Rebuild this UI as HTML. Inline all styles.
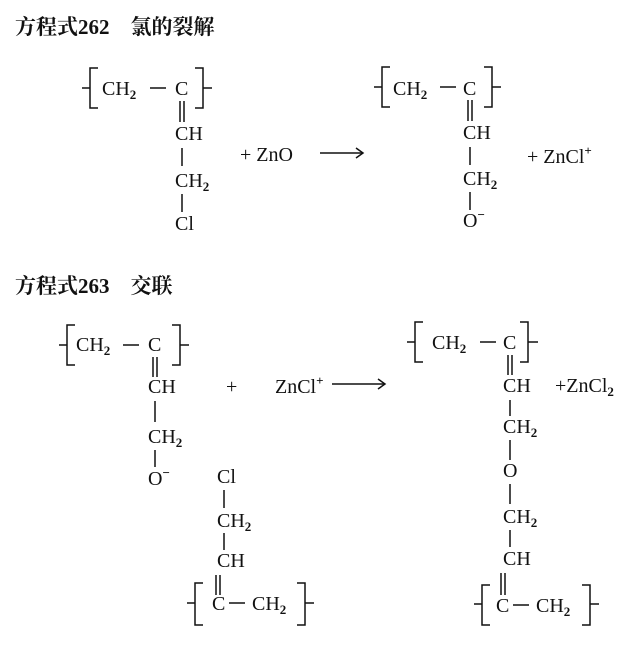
<!DOCTYPE html>
<html><head><meta charset="utf-8"><style>
html,body{margin:0;padding:0;background:#fff;}
svg{display:block;}
text{font-family:"Liberation Serif","Noto Serif CJK SC",serif;font-size:20px;fill:#111;}
.t{font-family:"Liberation Serif","Noto Serif CJK SC",serif;font-size:21px;font-weight:bold;}
.s{font-size:13px;font-weight:bold;}
line,path{stroke:#111;stroke-width:1.5;fill:none;}
</style></head><body>
<svg width="639" height="647" viewBox="0 0 639 647" xmlns="http://www.w3.org/2000/svg">
<text class="t" x="15" y="34">方程式262　氯的裂解</text>
<text class="t" x="15" y="293">方程式263　交联</text>

<!-- Structure 1 -->
<path d="M98 68 H90 V108 H98"/><line x1="82" y1="88" x2="90" y2="88"/>
<text x="102" y="95">CH<tspan class="s" dy="4">2</tspan></text>
<line x1="150" y1="88" x2="166" y2="88"/>
<text x="175" y="95">C</text>
<path d="M195 68 H203 V108 H195"/><line x1="203" y1="88" x2="212" y2="88"/>
<line x1="180" y1="101" x2="180" y2="122"/><line x1="184" y1="101" x2="184" y2="122"/>
<text x="175" y="140">CH</text>
<line x1="182" y1="148" x2="182" y2="166"/>
<text x="175" y="187">CH<tspan class="s" dy="4">2</tspan></text>
<line x1="182" y1="194" x2="182" y2="212"/>
<text x="175" y="230">Cl</text>
<text x="240" y="161">+  ZnO</text>
<line x1="320" y1="153" x2="362" y2="153"/><path d="M356 148 L363 153 L356 158"/>

<!-- Structure 2 -->
<path d="M390 67 H382 V107 H390"/><line x1="374" y1="87" x2="382" y2="87"/>
<text x="393" y="95">CH<tspan class="s" dy="4">2</tspan></text>
<line x1="440" y1="87" x2="456" y2="87"/>
<text x="463" y="95">C</text>
<path d="M484 67 H492 V107 H484"/><line x1="492" y1="87" x2="501" y2="87"/>
<line x1="468" y1="100" x2="468" y2="121"/><line x1="472" y1="100" x2="472" y2="121"/>
<text x="463" y="139">CH</text>
<line x1="470" y1="147" x2="470" y2="165"/>
<text x="463" y="185">CH<tspan class="s" dy="4">2</tspan></text>
<line x1="470" y1="192" x2="470" y2="210"/>
<text x="463" y="227">O<tspan class="s" dy="-8">−</tspan></text>
<text x="527" y="163">+  ZnCl<tspan class="s" dy="-8">+</tspan></text>

<!-- Structure 3 -->
<path d="M75 325 H67 V365 H75"/><line x1="59" y1="345" x2="67" y2="345"/>
<text x="76" y="351">CH<tspan class="s" dy="4">2</tspan></text>
<line x1="123" y1="345" x2="139" y2="345"/>
<text x="148" y="351">C</text>
<path d="M172 325 H180 V365 H172"/><line x1="180" y1="345" x2="189" y2="345"/>
<line x1="153" y1="357" x2="153" y2="377"/><line x1="157" y1="357" x2="157" y2="377"/>
<text x="148" y="393">CH</text>
<line x1="155" y1="401" x2="155" y2="422"/>
<text x="148" y="443">CH<tspan class="s" dy="4">2</tspan></text>
<line x1="155" y1="450" x2="155" y2="467"/>
<text x="148" y="485">O<tspan class="s" dy="-8">−</tspan></text>
<text x="226" y="393">+</text>
<text x="275" y="393">ZnCl<tspan class="s" dy="-8">+</tspan></text>
<line x1="332" y1="384" x2="384" y2="384"/><path d="M378 379 L385 384 L378 389"/>
<text x="217" y="483">Cl</text>
<line x1="224" y1="490" x2="224" y2="508"/>
<text x="217" y="527">CH<tspan class="s" dy="4">2</tspan></text>
<line x1="224" y1="533" x2="224" y2="550"/>
<text x="217" y="567">CH</text>
<line x1="216" y1="575" x2="216" y2="595"/><line x1="220" y1="575" x2="220" y2="595"/>
<path d="M203 583 H195 V625 H203"/><line x1="187" y1="603" x2="195" y2="603"/>
<text x="212" y="610">C</text>
<line x1="229" y1="603" x2="245" y2="603"/>
<text x="252" y="610">CH<tspan class="s" dy="4">2</tspan></text>
<path d="M297 583 H305 V625 H297"/><line x1="305" y1="603" x2="314" y2="603"/>

<!-- Structure 4 -->
<path d="M423 322 H415 V362 H423"/><line x1="407" y1="342" x2="415" y2="342"/>
<text x="432" y="349">CH<tspan class="s" dy="4">2</tspan></text>
<line x1="480" y1="342" x2="496" y2="342"/>
<text x="503" y="349">C</text>
<path d="M520 322 H528 V362 H520"/><line x1="528" y1="342" x2="538" y2="342"/>
<line x1="508" y1="355" x2="508" y2="375"/><line x1="512" y1="355" x2="512" y2="375"/>
<text x="503" y="392">CH</text>
<text x="555" y="392">+ZnCl<tspan class="s" dy="4">2</tspan></text>
<line x1="510" y1="400" x2="510" y2="416"/>
<text x="503" y="433">CH<tspan class="s" dy="4">2</tspan></text>
<line x1="510" y1="440" x2="510" y2="460"/>
<text x="503" y="477">O</text>
<line x1="510" y1="484" x2="510" y2="504"/>
<text x="503" y="523">CH<tspan class="s" dy="4">2</tspan></text>
<line x1="510" y1="530" x2="510" y2="547"/>
<text x="503" y="565">CH</text>
<line x1="501" y1="573" x2="501" y2="595"/><line x1="505" y1="573" x2="505" y2="595"/>
<path d="M490 585 H482 V625 H490"/><line x1="474" y1="604" x2="482" y2="604"/>
<text x="496" y="612">C</text>
<line x1="513" y1="605" x2="529" y2="605"/>
<text x="536" y="612">CH<tspan class="s" dy="4">2</tspan></text>
<path d="M582 585 H590 V625 H582"/><line x1="590" y1="604" x2="599" y2="604"/>
</svg>
</body></html>
